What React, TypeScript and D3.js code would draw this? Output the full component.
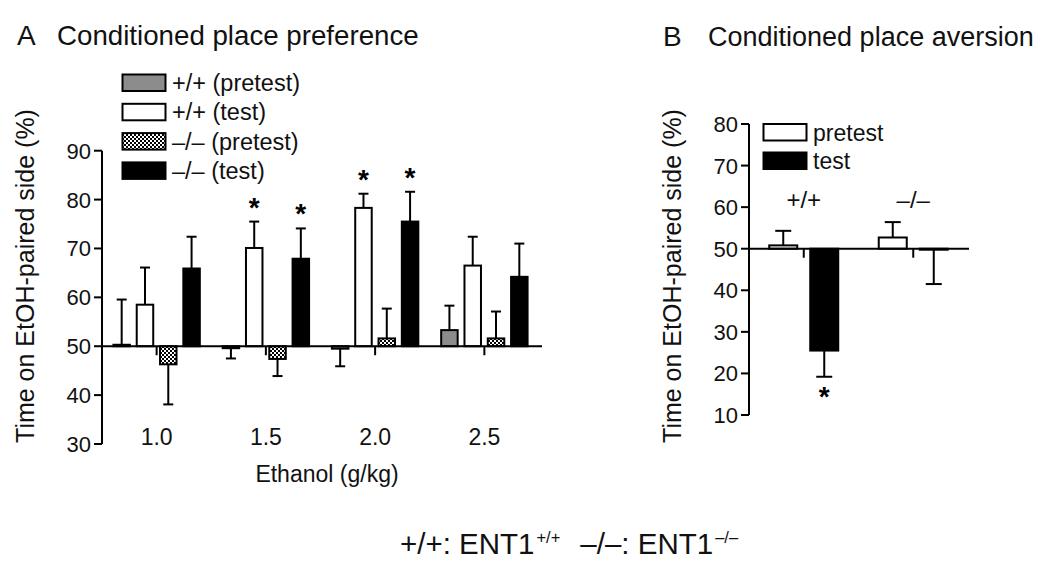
import React from "react";
import * as d3 from "d3";

const doses = ["1.0", "1.5", "2.0", "2.5"];
const seriesA = ["wtPre", "wtTest", "koPre", "koTest"];
const seriesLabelsA = ["+/+ (pretest)", "+/+ (test)", "–/– (pretest)", "–/– (test)"];
const wtPre = [50.3, 49.6, 49.5, 53.3];
const wtPreErr = [9.25, 2.1, 3.6, 5.0];
const wtTest = [58.5, 70.1, 78.3, 66.5];
const wtTestErr = [7.6, 5.4, 2.9, 5.9];
const koPre = [46.3, 47.4, 51.6, 51.6];
const koPreErr = [8.2, 3.5, 6.1, 5.5];
const koTest = [65.9, 67.9, 75.5, 64.2];
const koTestErr = [6.5, 6.2, 6.1, 6.8];
// significance markers, one row per series (wtPre, wtTest, koPre, koTest), one column per dose
const starsA = [
  [false, false, false, false],
  [false, true, true, false],
  [false, false, false, false],
  [false, true, true, false],
];
const ticksA = [30, 40, 50, 60, 70, 80, 90];

const genotypes = ["+/+", "–/–"];
const seriesB = ["pretest", "test"];
const pretestB = [50.8, 52.7];
const pretestBErr = [3.5, 3.7];
const testB = [25.5, 49.8];
const testBErr = [6.3, 8.3];
// one row per series (pretest, test), one column per genotype
const starsB = [
  [false, false],
  [true, false],
];
const ticksB = [10, 20, 30, 40, 50, 60, 70, 80];

const FONT = "'Liberation Sans', Arial, Helvetica, sans-serif";
const fillsA = ["#8c8c8c", "#ffffff", "url(#checker)", "#000000"];
const fillsB = ["#ffffff", "#000000"];

export default function App() {
  const yA = d3.scaleLinear().domain([30, 90]).range([444, 150.7]);
  const xA = d3.scaleBand().domain(doses).range([102, 539]);
  const innerA = d3.scaleBand().domain(seriesA).range([-43.2, 43.2]).paddingInner(0.292);
  const valsA = [wtPre, wtTest, koPre, koTest];
  const errsA = [wtPreErr, wtTestErr, koPreErr, koTestErr];

  const yB = d3.scaleLinear().domain([10, 80]).range([415, 124]);
  const xB = d3.scaleBand().domain(genotypes).range([749, 968]);
  const innerB = d3.scaleBand().domain(seriesB).range([-34.5, 34.5]).paddingInner(0.317);
  const valsB = [pretestB, testB];
  const errsB = [pretestBErr, testBErr];

  const axisColor = "#000";
  const sw = 2;

  const renderBars = (
    groups: string[],
    xOuter: d3.ScaleBand<string>,
    inner: d3.ScaleBand<string>,
    series: string[],
    vals: number[][],
    errs: number[][],
    stars: boolean[][],
    y: d3.ScaleLinear<number, number>,
    fills: string[],
    capW: number,
    starBelowOffset: number
  ) => {
    const out: any[] = [];
    groups.forEach((g, gi) => {
      const c = (xOuter(g) as number) + xOuter.bandwidth() / 2;
      series.forEach((s, si) => {
        const v = vals[si][gi];
        const e = errs[si][gi];
        const x0 = c + (inner(s) as number);
        const w = inner.bandwidth();
        const bx = x0 + w / 2;
        const y50 = y(50);
        const yv = y(v);
        const up = v >= 50;
        const ye = y(up ? v + e : v - e);
        out.push(
          <g key={`${g}-${s}`}>
            <line x1={bx} x2={bx} y1={yv} y2={ye} stroke="#000" strokeWidth={sw} />
            <line x1={bx - capW / 2} x2={bx + capW / 2} y1={ye} y2={ye} stroke="#000" strokeWidth={sw} />
            <rect
              x={x0}
              y={Math.min(y50, yv)}
              width={w}
              height={Math.max(Math.abs(yv - y50), 1)}
              fill={fills[si]}
              stroke="#000"
              strokeWidth={sw}
            />
            {stars[si][gi] && (
              <text
                x={bx}
                y={up ? ye - 5 : ye + starBelowOffset}
                textAnchor="middle"
                fontSize={28}
                fontWeight="bold"
                fontFamily={FONT}
              >
                *
              </text>
            )}
          </g>
        );
      });
      out.push(
        <line
          key={`tick-${g}`}
          x1={c}
          x2={c}
          y1={y(50)}
          y2={y(50) + 9}
          stroke="#000"
          strokeWidth={sw}
        />
      );
    });
    return out;
  };

  return (
    <svg
      width={1050}
      height={569}
      style={{ position: "absolute", left: 0, top: 0, background: "#fff" }}
      fontFamily={FONT}
    >
      <defs>
        <pattern id="checker" width={4} height={4} patternUnits="userSpaceOnUse">
          <rect x={0} y={0} width={4} height={4} fill="#fff" />
          <rect x={0} y={0} width={2} height={2} fill="#000" />
          <rect x={2} y={2} width={2} height={2} fill="#000" />
        </pattern>
      </defs>
      <rect x={0} y={0} width={1050} height={569} fill="#fff" />

      {/* Panel A */}
      <text x={17} y={45} fontSize={28} fill="#111">A</text>
      <text x={57} y={45} fontSize={27.7} fill="#111">Conditioned place preference</text>

      {seriesLabelsA.map((lab, i) => (
        <g key={lab}>
          <rect x={122.5} y={74.5 + i * 29.3} width={43} height={16.5} fill={fillsA[i]} stroke="#000" strokeWidth={sw} />
          <text x={172} y={91 + i * 29.3} fontSize={23.5} fill="#111">{lab}</text>
        </g>
      ))}

      <line x1={102} x2={102} y1={yA(90)} y2={yA(30)} stroke={axisColor} strokeWidth={sw} />
      {ticksA.map((t) => (
        <g key={`ta${t}`}>
          <line x1={94} x2={102} y1={yA(t)} y2={yA(t)} stroke={axisColor} strokeWidth={sw} />
          <text x={91} y={yA(t) + 8} fontSize={22} textAnchor="end" fill="#111">{t}</text>
        </g>
      ))}
      <text
        transform={`translate(34,276) rotate(-90)`}
        textAnchor="middle"
        fontSize={25}
        fill="#111"
      >
        Time on EtOH-paired side (%)
      </text>

      {renderBars(doses, xA, innerA, seriesA, valsA, errsA, starsA, yA, fillsA, 10, 20)}
      <line x1={101} x2={542} y1={yA(50)} y2={yA(50)} stroke="#000" strokeWidth={sw} />

      {doses.map((d) => (
        <text
          key={`xl${d}`}
          x={(xA(d) as number) + xA.bandwidth() / 2}
          y={445}
          fontSize={23}
          textAnchor="middle"
          fill="#111"
        >
          {d}
        </text>
      ))}
      <text x={327} y={482} fontSize={23} textAnchor="middle" fill="#111">Ethanol (g/kg)</text>

      {/* Panel B */}
      <text x={663} y={46} fontSize={28} fill="#111">B</text>
      <text x={708} y={46} fontSize={27} fill="#111">Conditioned place aversion</text>

      {seriesB.map((lab, i) => (
        <g key={lab}>
          <rect x={763.5} y={124 + i * 28.5} width={43} height={16.5} fill={fillsB[i]} stroke="#000" strokeWidth={sw} />
          <text x={813} y={140.5 + i * 28.5} fontSize={23} fill="#111">{lab}</text>
        </g>
      ))}

      <line x1={749} x2={749} y1={yB(80)} y2={yB(10)} stroke={axisColor} strokeWidth={sw} />
      {ticksB.map((t) => (
        <g key={`tb${t}`}>
          <line x1={741} x2={749} y1={yB(t)} y2={yB(t)} stroke={axisColor} strokeWidth={sw} />
          <text x={738} y={yB(t) + 8} fontSize={22} textAnchor="end" fill="#111">{t}</text>
        </g>
      ))}
      <text
        transform={`translate(681,276) rotate(-90)`}
        textAnchor="middle"
        fontSize={25}
        fill="#111"
      >
        Time on EtOH-paired side (%)
      </text>

      {renderBars(genotypes, xB, innerB, seriesB, valsB, errsB, starsB, yB, fillsB, 16, 29)}
      <line x1={748} x2={969} y1={yB(50)} y2={yB(50)} stroke="#000" strokeWidth={sw} />

      {genotypes.map((g) => (
        <text
          key={`gl${g}`}
          x={(xB(g) as number) + xB.bandwidth() / 2}
          y={208}
          fontSize={24}
          textAnchor="middle"
          fill="#111"
        >
          {g}
        </text>
      ))}

      {/* Footer */}
      <text x={400} y={554} fontSize={29.5} fill="#111">
        +/+: ENT1
        <tspan fontSize={16.5} dy={-11} dx={2}>+/+</tspan>
        <tspan dy={11} dx={20}>–/–: ENT1</tspan>
        <tspan fontSize={16.5} dy={-11} dx={2}>–/–</tspan>
      </text>
    </svg>
  );
}
